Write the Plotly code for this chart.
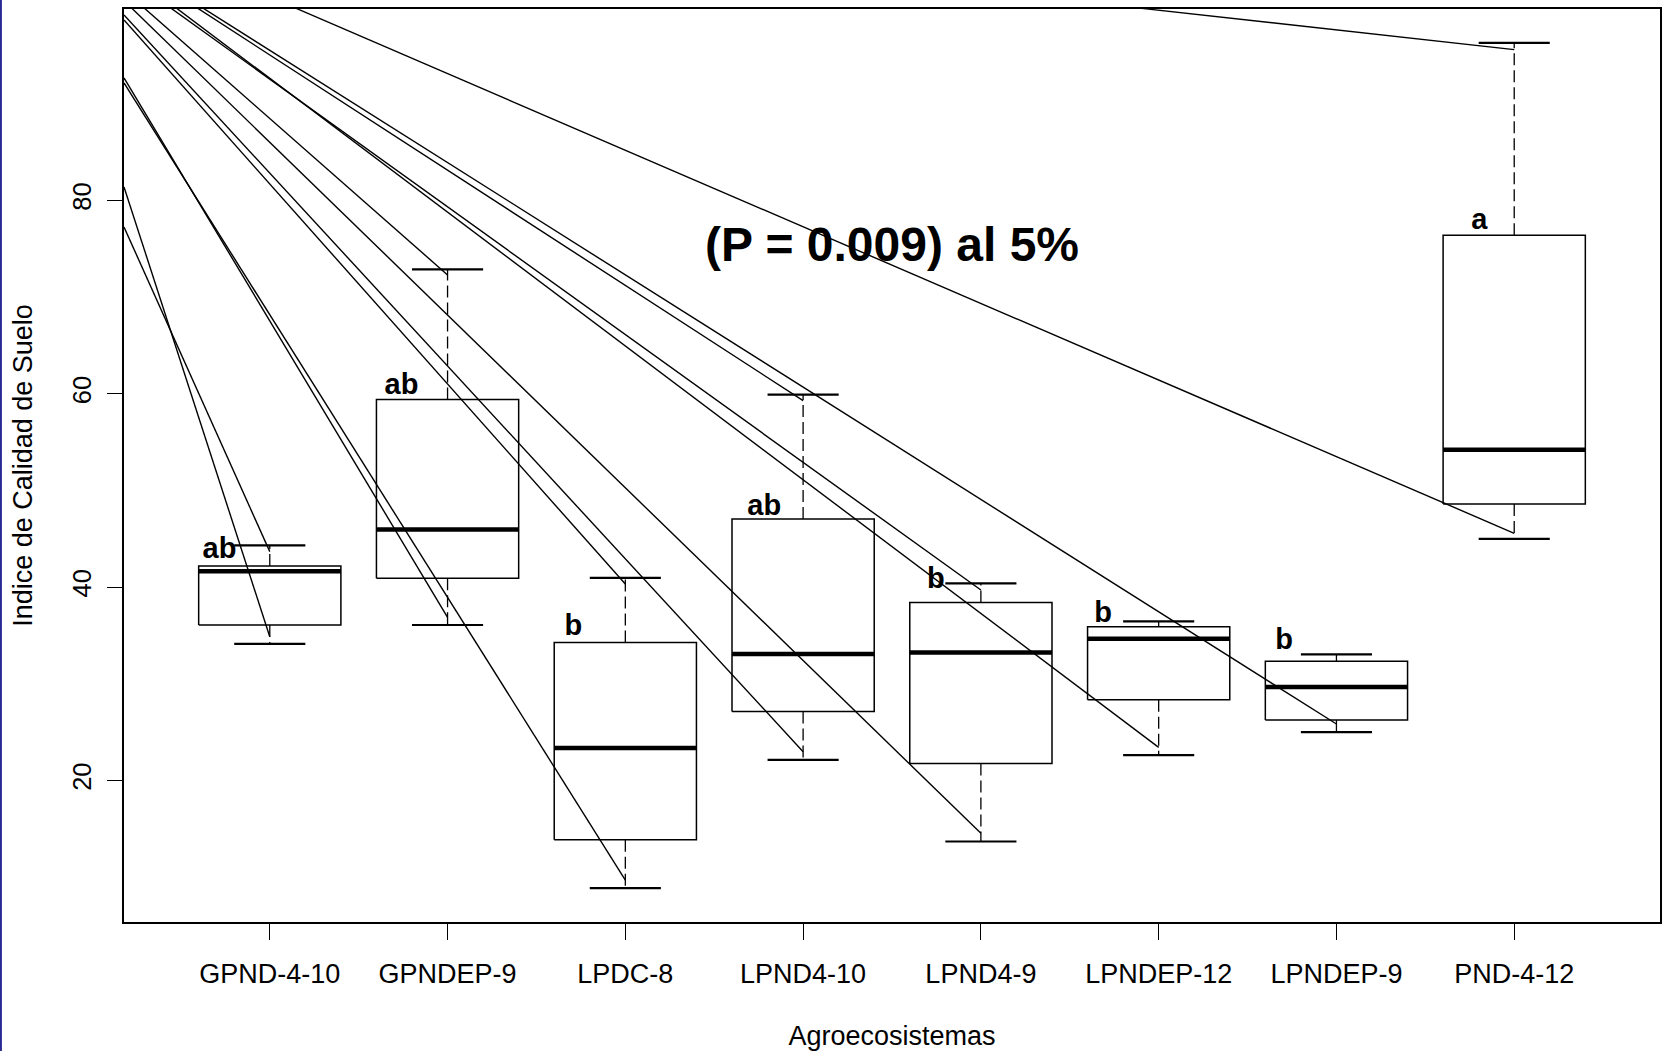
import plotly.graph_objects as go

# ---------------- data ----------------
categories = ["GPND-4-10", "GPNDEP-9", "LPDC-8", "LPND4-10",
              "LPND4-9", "LPNDEP-12", "LPNDEP-9", "PND-4-12"]
whisker_low = [34.12, 36.08, 8.86, 22.14, 13.69, 22.63, 25.01, 45.0]
q1 = [36.08, 40.91, 13.86, 27.14, 21.76, 28.35, 26.25, 48.6]
median = [41.63, 45.95, 23.35, 33.08, 33.25, 34.67, 29.67, 54.2]
q3 = [42.19, 59.40, 34.28, 47.05, 38.42, 35.91, 32.32, 76.4]
whisker_high = [44.32, 72.86, 40.95, 59.92, 40.39, 36.46, 33.04, 96.3]

group_letters = ["ab", "ab", "b", "ab", "b", "b", "b", "a"]
letter_x = [0.717, 1.741, 2.708, 3.781, 4.747, 5.688, 6.706, 7.804]
letter_y = [43.75, 60.70, 35.80, 48.20, 40.62, 37.15, 34.40, 77.80]

y_ticks = [20, 40, 60, 80]

p_text = "(P = 0.009) al 5%"
p_x, p_y = 4.5, 75.4

# stray straight lines present in the original graphic (start -> end, data units)
art_x0 = [0.18, 0.18, 0.296, 0.18, 0.18, 0.18, 0.596, 0.18, 0.446, 0.225, 0.477, 0.627, 5.905, 1.149]
art_y0 = [77.25, 81.39, 99.86, 92.67, 98.67, 92.15, 99.86, 99.18, 99.86, 99.86, 99.86, 99.86, 99.86, 99.86]
art_x1 = [1, 1, 2, 2, 3, 3, 4, 4, 5, 5, 6, 7, 8, 8]
art_y1 = [43.67, 34.87, 72.29, 36.88, 40.32, 9.70, 59.29, 22.98, 39.70, 14.54, 23.43, 25.84, 95.6, 45.57]

# ---------------- style ----------------
FONT = "Liberation Sans, Arial, Helvetica, sans-serif"
BOX_HALF = 0.4
CAP_HALF = 0.2

n = len(categories)
pos = list(range(1, n + 1))

lo, hi = min(whisker_low), max(whisker_high)
ypad = 0.04 * (hi - lo)
y_range = [lo - ypad, hi + ypad]
xpad = 0.04 * n
x_range = [0.5 - xpad, n + 0.5 + xpad]

fig = go.Figure()

# stray lines
ax, ay = [], []
for a, b, c, d in zip(art_x0, art_y0, art_x1, art_y1):
    ax += [a, c, None]
    ay += [b, d, None]
fig.add_trace(go.Scatter(x=ax, y=ay, mode="lines",
                         line=dict(color="black", width=1.4), hoverinfo="skip"))

# whiskers (dashed)
wx, wy = [], []
for p, l, a, b, h in zip(pos, whisker_low, q1, q3, whisker_high):
    wx += [p, p, None, p, p, None]
    wy += [b, h, None, a, l, None]
fig.add_trace(go.Scatter(x=wx, y=wy, mode="lines",
                         line=dict(color="black", width=1.3, dash="12px,5px"),
                         hoverinfo="skip"))

# caps
cx, cy = [], []
for p, l, h in zip(pos, whisker_low, whisker_high):
    cx += [p - CAP_HALF, p + CAP_HALF, None, p - CAP_HALF, p + CAP_HALF, None]
    cy += [h, h, None, l, l, None]
fig.add_trace(go.Scatter(x=cx, y=cy, mode="lines",
                         line=dict(color="black", width=2.2), hoverinfo="skip"))

# boxes
bx, by = [], []
for p, a, b in zip(pos, q1, q3):
    bx += [p - BOX_HALF, p + BOX_HALF, p + BOX_HALF, p - BOX_HALF, p - BOX_HALF, None]
    by += [a, a, b, b, a, None]
fig.add_trace(go.Scatter(x=bx, y=by, mode="lines",
                         line=dict(color="black", width=1.5), hoverinfo="skip"))

# medians
mx, my = [], []
for p, m in zip(pos, median):
    mx += [p - BOX_HALF, p + BOX_HALF, None]
    my += [m, m, None]
fig.add_trace(go.Scatter(x=mx, y=my, mode="lines",
                         line=dict(color="black", width=4.5), hoverinfo="skip"))

# group letters
fig.add_trace(go.Scatter(x=letter_x, y=letter_y, mode="text", text=group_letters,
                         textposition="middle center",
                         textfont=dict(family=FONT, size=29, color="black"),
                         texttemplate="<b>%{text}</b>", hoverinfo="skip"))

fig.add_annotation(x=p_x, y=p_y, xref="x", yref="y", text="<b>" + p_text + "</b>",
                   showarrow=False, xanchor="center", yanchor="middle",
                   font=dict(family=FONT, size=48, color="black"))

# thin navy strip at the image's left edge
L, R, T, B = 124, 3, 9, 129
PW = 1665 - L - R
PH = 1051 - T - B
fig.add_shape(type="rect", xref="paper", yref="paper",
              x0=-L / PW, x1=(-L + 1.6) / PW, y0=-B / PH, y1=1 + T / PH,
              fillcolor="#000080", line=dict(width=0), layer="above")

fig.update_layout(
    width=1665, height=1051,
    margin=dict(l=L, r=R, t=T, b=B),
    plot_bgcolor="white", paper_bgcolor="white",
    showlegend=False,
    font=dict(family=FONT, color="black"),
    xaxis=dict(range=x_range, tickmode="array", tickvals=pos, ticktext=categories,
               ticks="outside", ticklen=16, tickwidth=1.3, tickcolor="black",
               showline=True, linewidth=2, linecolor="black", mirror=True,
               showgrid=False, zeroline=False,
               tickfont=dict(family=FONT, size=27, color="black"),
               ticklabelstandoff=11,
               title=dict(text="Agroecosistemas", standoff=38,
                          font=dict(family=FONT, size=27, color="black"))),
    yaxis=dict(range=y_range, tickmode="array", tickvals=y_ticks,
               ticks="outside", ticklen=15, tickwidth=1.3, tickcolor="black",
               tickangle=-90, ticklabelstandoff=6,
               showline=True, linewidth=2, linecolor="black", mirror=True,
               showgrid=False, zeroline=False,
               tickfont=dict(family=FONT, size=25.5, color="black"),
               title=dict(text="Indice de Calidad de Suelo", standoff=27,
                          font=dict(family=FONT, size=27, color="black"))),
)

fig.write_html(
    "out.html",
    config={"displayModeBar": False},
    post_script="document.body.style.margin='0';document.body.style.overflow='hidden';",
)
